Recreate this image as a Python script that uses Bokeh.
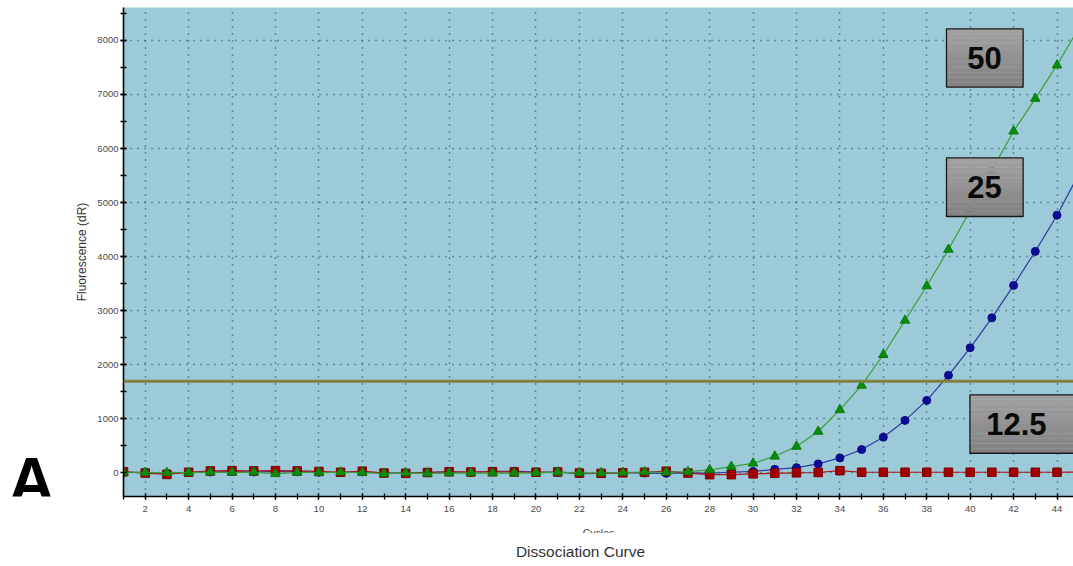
import numpy as np
from bokeh.plotting import figure
from bokeh.layouts import row, column
from bokeh.models import FixedTicker, Span, Label, Range1d
from bokeh.core.properties import value
from bokeh.embed import file_html
from bokeh.resources import INLINE

# ---- data ----
cycles = list(range(1, 46))
green_50 = [5, 0, -5, 0, 5, 0, 5, -25, 0, 0, 5, 0, -20, -10, -15, -10, -5, -10, -10, -5,
            5, -5, -10, 0, 10, 5, 15, 50, 110, 170, 300, 482, 760, 1160, 1612, 2181, 2817,
            3453, 4130, 4850, 5600, 6320, 6925, 7543, 8230]
blue_25 = [0, 5, -15, 0, 10, 15, 10, 20, 15, 5, 0, 10, -5, -10, 5, 10, 5, 20, 25, 10,
           5, -20, -15, 0, -10, -15, -5, -10, 5, 20, 60, 90, 160, 270, 425, 655, 965,
           1335, 1800, 2310, 2865, 3465, 4095, 4765, 5520]
red_12_5 = [15, -10, -35, 5, 30, 35, 30, 35, 30, 20, 5, 25, -10, -15, 0, 15, 10, 15, 10, 5,
            10, -10, -15, -5, 5, 25, -10, -40, -40, -25, -15, -5, 0, 35, 5, 5, 5, 5, 5, 5,
            5, 5, 5, 5, 10]
x_major = list(range(2, 45, 2))
x_minor = list(range(1, 46))
y_major = list(range(0, 8001, 1000))
y_minor = list(range(500, 8600, 500))
threshold = 1690
box_labels = ["50", "25", "12.5"]

FONT = "Liberation Sans"
LEFT_W = 60
TOP_H = 520

# ---------------- main plot ----------------
p = figure(width=1073 - LEFT_W, height=TOP_H, output_backend="svg", toolbar_location=None,
           x_range=Range1d(1, 44.76), y_range=Range1d(-444, 8611),
           min_border_left=123 - LEFT_W, min_border_right=0, min_border_top=7,
           min_border_bottom=TOP_H - 496)
p.background_fill_color = "#9ccad8"
p.border_fill_color = "white"
p.outline_line_color = None

xt = FixedTicker(ticks=x_major, minor_ticks=x_minor)
yt = FixedTicker(ticks=y_major, minor_ticks=y_minor)
p.xaxis.ticker = xt
p.yaxis.ticker = yt
for ax in (p.xaxis[0], p.yaxis[0]):
    ax.axis_line_color = "black"
    ax.axis_line_width = 1.6
    ax.major_tick_line_color = "black"
    ax.minor_tick_line_color = "black"
    ax.major_tick_line_width = 1.3
    ax.minor_tick_line_width = 1.3
    ax.major_tick_in = 3
    ax.major_tick_out = 3
    ax.minor_tick_in = 3
    ax.minor_tick_out = 3
    ax.major_label_text_font = FONT
    ax.major_label_text_font_size = "9.5px"
    ax.major_label_text_color = "#4a4a4a"
p.xaxis.major_label_standoff = 6
p.yaxis.major_label_standoff = 2
p.yaxis.axis_label = "Fluorescence (dR)"
p.yaxis.axis_label_text_font = FONT
p.yaxis.axis_label_text_font_size = "12px"
p.yaxis.axis_label_text_font_style = "normal"
p.yaxis.axis_label_text_color = "#333333"
p.yaxis.axis_label_standoff = 5

p.xgrid.ticker = xt
p.ygrid.ticker = yt
for g in (p.xgrid[0], p.ygrid[0]):
    g.grid_line_color = "#24505e"
    g.grid_line_width = 1.6
    g.grid_line_dash = "1 6"

p.add_layout(Span(location=threshold, dimension="width", line_color="#7f7f42",
                  line_width=3))

p.line(cycles, blue_25, line_color="#2a3fa0", line_width=1.2)
p.scatter(cycles, blue_25, marker="circle", size=8, fill_color="#0b0b95",
          line_color="#0b0b80")
p.line(cycles, red_12_5, line_color="#b01414", line_width=1.2)
p.scatter(cycles, red_12_5, marker="square", size=8.5, fill_color="#a00000",
          line_color="#800000")
p.line(cycles, green_50, line_color="#3aa03a", line_width=1.2)
p.scatter(cycles, green_50, marker="triangle", size=9.5, fill_color="#0c8c0c",
          line_color="#0a7a0a")

# label boxes (left, right, top, bottom in data units) with a soft gradient
boxes = [(38.91, 42.44, 8217, 7135), (38.91, 42.44, 5828, 4741), (39.99, 47.0, 1439, 357)]
text_pos = [(40.66, 7685), (40.66, 5278), (42.13, 898)]
nb = 12
shades = np.linspace(0xa2, 0x84, nb).astype(int)
for (l, r, t, b), txt, (tx, ty) in zip(boxes, box_labels, text_pos):
    edges = np.linspace(t, b, nb + 1)
    cols = ["#%02x%02x%02x" % (s, s - 2, s - 2) for s in shades]
    p.quad(left=[l] * nb, right=[r] * nb, top=edges[:-1], bottom=edges[1:],
           fill_color=cols, line_color=None)
    p.quad(left=[l], right=[r], top=[t], bottom=[b], fill_color=None,
           line_color="#1a1a1a", line_width=1.3)
    p.add_layout(Label(x=tx, y=ty, text=txt, text_font=FONT, text_font_style="bold",
                       text_font_size="31px", text_color="#0a0a0a",
                       text_align="center", text_baseline="middle"))

# ---------------- left strip with panel letter ----------------
pa = figure(width=LEFT_W, height=TOP_H, output_backend="svg", toolbar_location=None,
            x_range=Range1d(0, LEFT_W), y_range=Range1d(TOP_H, 0),
            x_axis_type=None, y_axis_type=None, min_border=0)
pa.outline_line_color = None
pa.background_fill_color = "white"
pa.border_fill_color = "white"
pa.grid.visible = False
pa.text(x=[8], y=[504], text=["A"], text_font=value(FONT), text_font_style="bold",
        text_font_size=value("64px"), text_color="black", text_align="left",
        text_baseline="alphabetic")

# ---------------- bottom strip with axis title and caption ----------------
pb = figure(width=1073, height=566 - TOP_H, output_backend="svg", toolbar_location=None,
            x_range=Range1d(0, 1073), y_range=Range1d(566, TOP_H),
            x_axis_type=None, y_axis_type=None, min_border=0)
pb.outline_line_color = None
pb.background_fill_color = "white"
pb.border_fill_color = "white"
pb.grid.visible = False
pb.text(x=[598], y=[526], text=["Cycles"], text_font=value(FONT),
        text_font_size=value("10.5px"), text_color="#444444", text_align="center",
        text_baseline="top")
pb.quad(left=[560], right=[640], top=[532.5], bottom=[542], fill_color="white",
        line_color=None)
pb.text(x=[580], y=[551], text=["Dissociation Curve"], text_font=value(FONT),
        text_font_size=value("15.5px"), text_color="#333333", text_align="center",
        text_baseline="middle")

layout = column(row(pa, p, spacing=0), pb, spacing=0)
open("out.html", "w").write(file_html(layout, INLINE))
